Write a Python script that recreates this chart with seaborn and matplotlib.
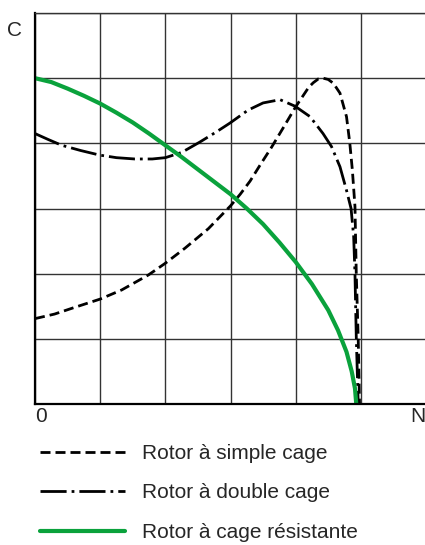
import pandas as pd
import matplotlib.pyplot as plt
import seaborn as sns

# Couple C en fonction de la vitesse N (unités de la grille)
simple_x = [0, 0.3, 0.6, 1.0, 1.33, 1.74, 2.0, 2.3, 2.66, 3.0, 3.15, 3.3, 3.45, 3.63,
            3.81, 4.0, 4.12, 4.2, 4.27, 4.35, 4.42, 4.5, 4.58, 4.68, 4.78, 4.83,
            4.87, 4.91, 4.93, 4.96, 4.98]
simple_y = [1.31, 1.38, 1.48, 1.61, 1.75, 1.98, 2.16, 2.39, 2.69, 3.04, 3.22, 3.42, 3.66, 3.94,
            4.24, 4.56, 4.74, 4.86, 4.93, 4.99, 5.0, 4.98, 4.92, 4.77, 4.41, 4.01,
            3.59, 3.03, 2.0, 1.0, 0.0]

double_x = [0, 0.2, 0.41, 0.7, 0.99, 1.25, 1.53, 1.8, 2.0, 2.25, 2.53, 2.79, 2.99, 3.27,
            3.5, 3.76, 3.99, 4.22, 4.42, 4.55, 4.68, 4.78, 4.85, 4.89, 4.91, 4.93, 4.96]
double_y = [4.15, 4.06, 3.97, 3.89, 3.82, 3.78, 3.76, 3.76, 3.78, 3.86, 4.02, 4.18, 4.31, 4.51,
            4.62, 4.67, 4.57, 4.41, 4.15, 3.95, 3.64, 3.28, 3.0, 2.57, 2.0, 1.03, 0.0]

resist_x = [0, 0.25, 0.5, 0.75, 1.0, 1.25, 1.5, 1.75, 2.0, 2.25, 2.5, 2.75, 3.0, 3.25,
            3.5, 3.75, 4.0, 4.25, 4.5, 4.65, 4.78, 4.86, 4.91, 4.93]
resist_y = [5.0, 4.94, 4.84, 4.73, 4.61, 4.47, 4.32, 4.15, 3.97, 3.79, 3.60, 3.41, 3.22, 3.00,
            2.76, 2.48, 2.18, 1.84, 1.44, 1.13, 0.80, 0.50, 0.24, 0.0]

labels = ["Rotor à simple cage", "Rotor à double cage", "Rotor à cage résistante"]

sns.set_style("white")
plt.rcParams['font.family'] = ['Liberation Sans', 'DejaVu Sans']

fig = plt.figure(figsize=(4.25, 5.45), dpi=100)
ax = fig.add_axes([35/425, 141/545, 391/425, 391/545])

sns.lineplot(x=simple_x, y=simple_y, ax=ax, color="black", lw=2,
             linestyle=(0, (3.6, 1.8)), label=labels[0])
sns.lineplot(x=double_x, y=double_y, ax=ax, color="black", lw=2,
             linestyle=(0, (9.4, 1.8, 1.0, 1.8)), label=labels[1])
sns.lineplot(x=resist_x, y=resist_y, ax=ax, color="#0aa23c", lw=3,
             label=labels[2])

ax.set_xlim(0, 6)
ax.set_ylim(0, 6)
ax.set_xticks(range(7))
ax.set_yticks(range(7))
ax.set_xticklabels([])
ax.set_yticklabels([])
ax.tick_params(length=0)
ax.grid(True, color="#333333", lw=1)
ax.set_axisbelow(True)

for side in ["left", "bottom"]:
    ax.spines[side].set_linewidth(1.6)
    ax.spines[side].set_color("black")
ax.spines["top"].set_linewidth(1)
ax.spines["top"].set_color("#333333")
ax.spines["right"].set_visible(False)

ax.text(-0.052, 0.955, "C", transform=ax.transAxes, fontsize=15, ha="center", va="center")
ax.text(0.0, -0.032, "0", transform=ax.transAxes, fontsize=15, ha="left", va="center")
ax.text(0.98, -0.032, "N", transform=ax.transAxes, fontsize=15, ha="center", va="center")

handles, labs = ax.get_legend_handles_labels()
ax.get_legend().remove()
fig.legend(handles, labs, loc="upper left", bbox_to_anchor=(40/425, (545 - 444)/545),
           frameon=False, fontsize=15, handlelength=4.1, handletextpad=0.8,
           labelspacing=0.98, borderpad=0, borderaxespad=0)

plt.savefig("out.png", dpi=100)
